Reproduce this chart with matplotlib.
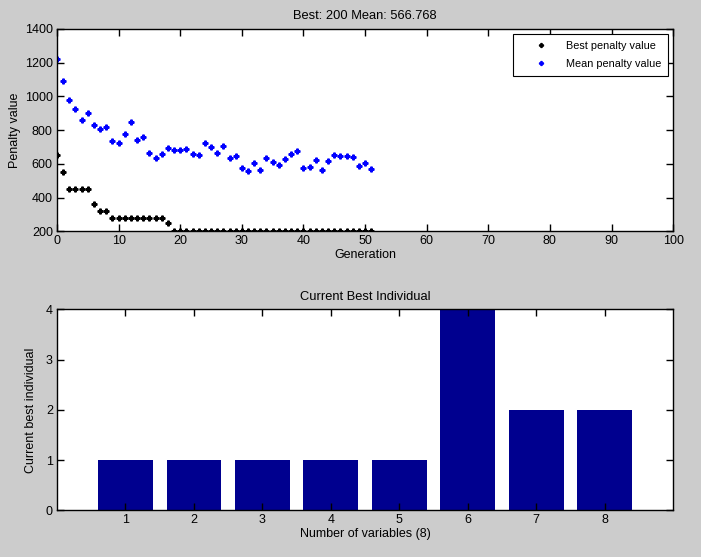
import numpy as np
import matplotlib
matplotlib.use("Agg")
import matplotlib.pyplot as plt

plt.rcParams['font.family'] = ['Liberation Sans', 'DejaVu Sans']
plt.rcParams['font.size'] = 9

# データ
generations = list(range(52))
best_penalty = [650, 550, 450, 450, 450, 450, 360, 320, 320,
                280, 280, 280, 280, 280, 280, 280, 280, 280,
                250] + [200] * 33
mean_penalty = [1221, 1090, 977, 924, 860, 900, 829, 809, 817, 733,
                725, 775, 846, 739, 757, 662, 632, 656, 692, 680,
                680, 686, 656, 650, 721, 698, 662, 704, 632, 644,
                573, 555, 602, 561, 632, 608, 596, 626, 656, 674,
                573, 579, 620, 561, 614, 650, 644, 644, 638, 590,
                602, 567]
variables = [1, 2, 3, 4, 5, 6, 7, 8]
best_individual = [1, 1, 1, 1, 1, 4, 2, 2]

bg = '#cccccc'
fig = plt.figure(figsize=(7.01, 5.57), dpi=100)
fig.patch.set_facecolor(bg)

def style(ax):
    ax.tick_params(direction='in', length=5, top=True, right=True, width=1,
                   labelsize=9, pad=3)
    for s in ax.spines.values():
        s.set_linewidth(1)

# 上のグラフ
ax1 = fig.add_axes([0.0813, 0.5848, 0.879, 0.3632])
ax1.plot(generations, best_penalty, linestyle='none', marker='P', markersize=3.5,
         color='black', label='Best penalty value')
ax1.plot(generations, mean_penalty, linestyle='none', marker='P', markersize=3.5,
         color='blue', label='Mean penalty value')
ax1.set_xlim(0, 100)
ax1.set_ylim(200, 1400)
ax1.set_xticks(range(0, 101, 10))
ax1.set_yticks(range(200, 1401, 200))
ax1.set_xlabel('Generation', labelpad=1)
ax1.set_ylabel('Penalty value', labelpad=3)
ax1.set_title('Best: 200 Mean: 566.768', pad=7, fontsize=9.3)
style(ax1)
leg = ax1.legend(loc='upper right', fancybox=False, edgecolor='black',
                 framealpha=1, borderaxespad=0.5, handlelength=4,
                 handletextpad=0.3, markerscale=0.8, fontsize=7.8,
                 borderpad=0.6, labelspacing=0.75)
leg.get_frame().set_linewidth(0.8)

# 下のグラフ
ax2 = fig.add_axes([0.0813, 0.0838, 0.879, 0.3609])
ax2.bar(variables, best_individual, width=0.8, color='#00008f')
ax2.set_xlim(0, 9)
ax2.set_ylim(0, 4)
ax2.set_xticks(variables)
ax2.set_yticks(range(0, 5))
ax2.set_xlabel('Number of variables (8)', labelpad=1)
ax2.set_ylabel('Current best individual', labelpad=6)
ax2.set_title('Current Best Individual', pad=7, fontsize=9.3)
style(ax2)

fig.savefig('out.png', dpi=100, facecolor=bg)
